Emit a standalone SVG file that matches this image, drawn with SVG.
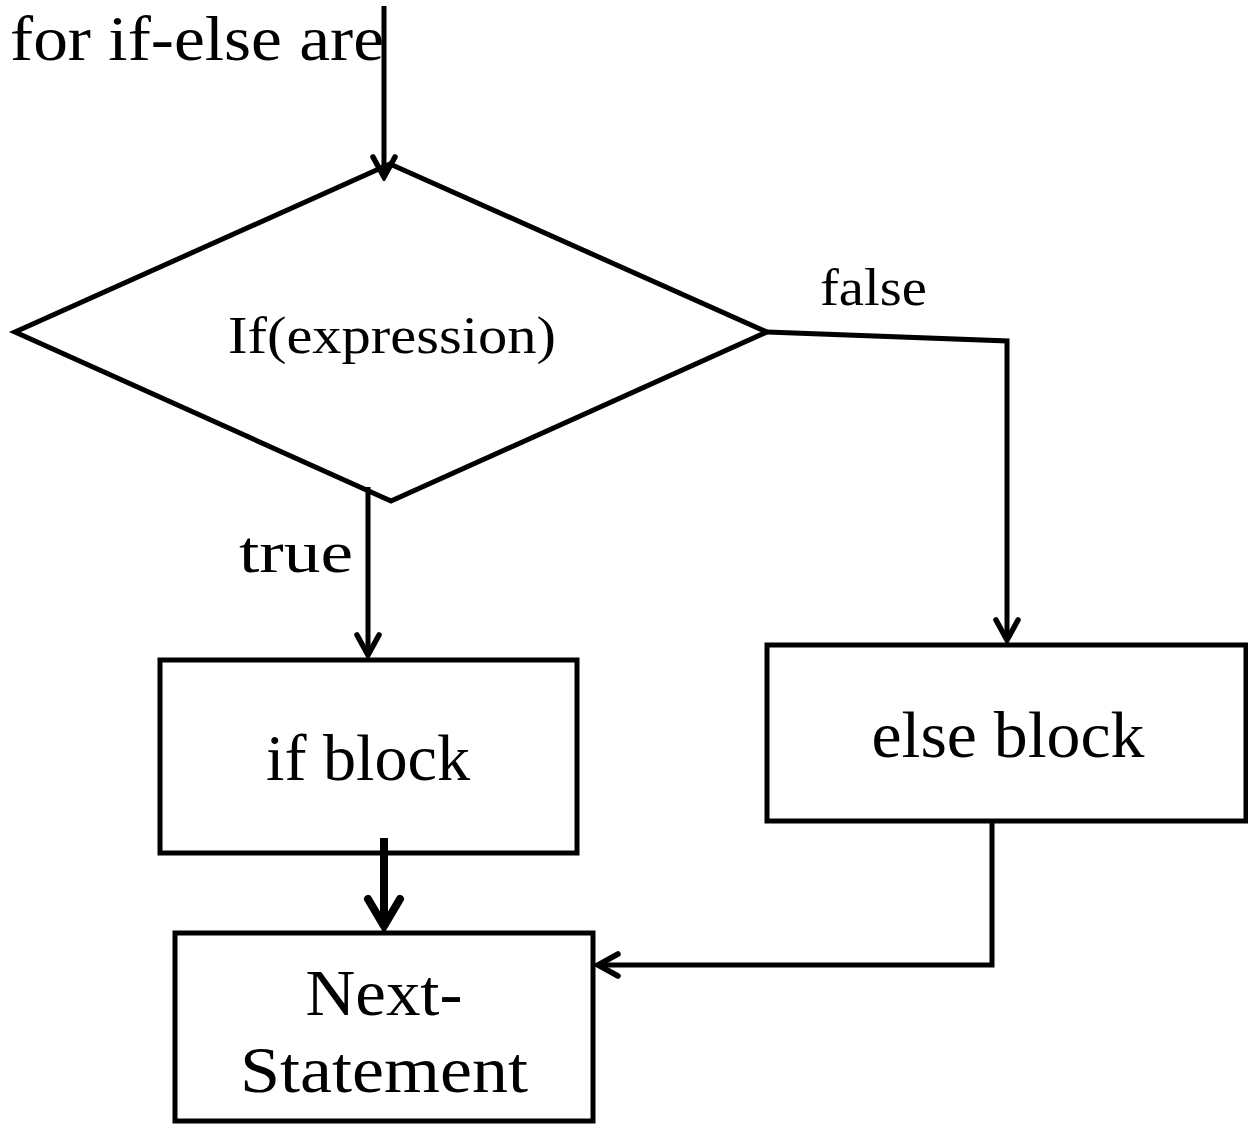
<svg xmlns="http://www.w3.org/2000/svg" width="1248" height="1124" viewBox="0 0 1248 1124">
  <style>
    .shape { fill: #fff; stroke: #000; stroke-width: 5; stroke-linejoin: miter; }
    .wire { fill: none; stroke: #000; stroke-width: 5; stroke-linejoin: miter; }
    .wire-bold { fill: none; stroke: #000; stroke-width: 8; }
    .label { font-family: "Liberation Serif", "Times New Roman", serif; fill: #000; }
  </style>
  <defs>
    <marker id="vee" markerUnits="userSpaceOnUse" viewBox="-24 -15 28 30" markerWidth="28" markerHeight="30" refX="0" refY="0" orient="auto">
      <path d="M-20,-11 L0,0 L-20,11" fill="none" stroke="#000" stroke-width="5.5" stroke-linecap="round" stroke-linejoin="miter"/>
    </marker>
    <marker id="vee-bold" markerUnits="userSpaceOnUse" viewBox="-32 -21 38 42" markerWidth="38" markerHeight="42" refX="0" refY="0" orient="auto">
      <path d="M-27,-16 L0,0 L-27,16" fill="none" stroke="#000" stroke-width="8" stroke-linecap="round" stroke-linejoin="miter"/>
    </marker>
  </defs>

  <rect width="1248" height="1124" fill="#fff"/>

  <text class="label" x="10" y="60" font-size="64" textLength="374" lengthAdjust="spacingAndGlyphs">for if-else are</text>

  <g id="decision">
    <polygon class="shape" points="390,164 767,332 391,501 15,332"/>
    <text class="label" x="392" y="353" font-size="52" text-anchor="middle" textLength="328" lengthAdjust="spacingAndGlyphs">If(expression)</text>
  </g>

  <g id="if-block">
    <rect class="shape" x="160" y="660" width="417" height="193"/>
    <text class="label" x="368" y="780" font-size="66" text-anchor="middle" textLength="204" lengthAdjust="spacingAndGlyphs">if block</text>
  </g>

  <g id="else-block">
    <rect class="shape" x="767" y="645" width="479" height="176"/>
    <text class="label" x="1008" y="757" font-size="66" text-anchor="middle" textLength="273" lengthAdjust="spacingAndGlyphs">else block</text>
  </g>

  <g id="next-statement">
    <rect class="shape" x="175" y="933" width="418" height="188"/>
    <text class="label" x="384" y="1015" font-size="66" text-anchor="middle" textLength="157" lengthAdjust="spacingAndGlyphs">Next-</text>
    <text class="label" x="384" y="1092" font-size="66" text-anchor="middle" textLength="288" lengthAdjust="spacingAndGlyphs">Statement</text>
  </g>

  <g id="connectors">
    <path class="wire" d="M384,6 L384,177" marker-end="url(#vee)"/>
    <path class="wire" d="M368,487 L368,655" marker-end="url(#vee)"/>
    <path class="wire" d="M767,332 L1007,341 L1007,640" marker-end="url(#vee)"/>
    <path class="wire-bold" d="M384,838 L384,926" marker-end="url(#vee-bold)"/>
    <path class="wire" d="M992,821 L992,965 L598,965" marker-end="url(#vee)"/>
    <text class="label" x="820" y="305" font-size="52" textLength="107" lengthAdjust="spacingAndGlyphs">false</text>
    <text class="label" x="239" y="572" font-size="60" textLength="114" lengthAdjust="spacingAndGlyphs">true</text>
  </g>
</svg>
